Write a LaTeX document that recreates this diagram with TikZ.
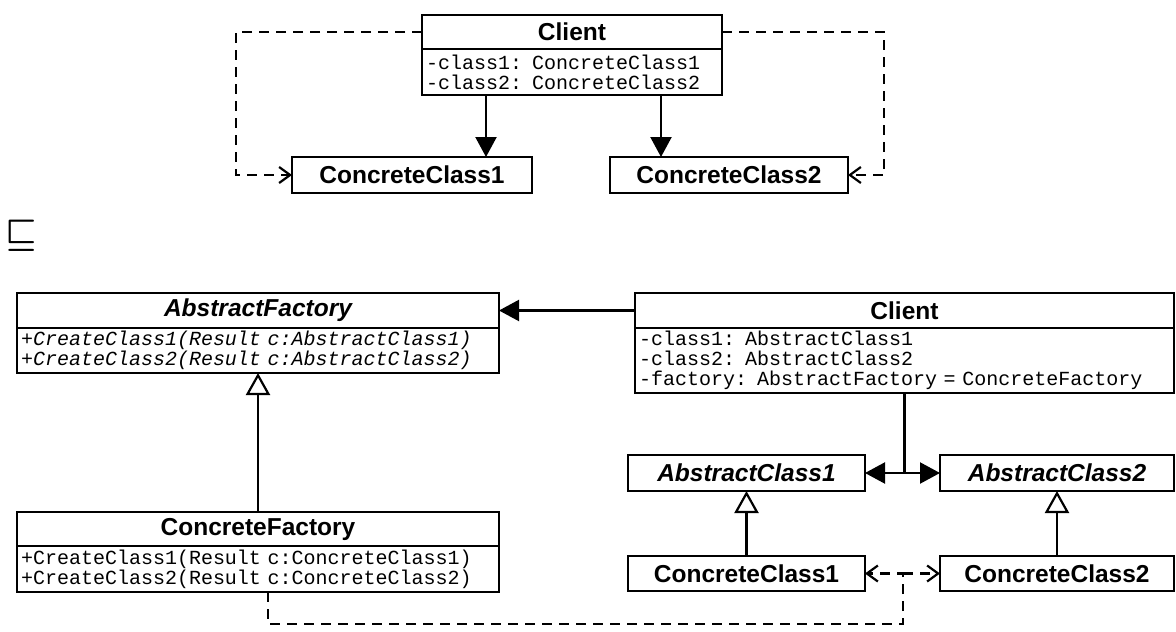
\documentclass[tikz,border=0pt]{standalone}
\usepackage{fix-cm}
\usepackage{fontspec}
\setmainfont{Liberation Sans}
\setmonofont{Liberation Mono}[WordSpace={1,0,0}]
\usepackage{tikz}
\usetikzlibrary{positioning, calc, arrows.meta}

\begin{document}
\begin{tikzpicture}[x=1pt, y=-1pt,
    box/.style={draw, line width=2.6pt, inner sep=0pt, outer sep=0pt, anchor=north west},
    head/.style={box, font=\fontsize{24.5}{28}\selectfont\bfseries},
    abshead/.style={box, font=\fontsize{24.5}{28}\selectfont\bfseries\itshape},
    body/.style={box, inner xsep=4pt, align=left, font=\fontsize{20}{20}\selectfont\ttfamily},
    absbody/.style={body, font=\fontsize{20}{20}\selectfont\ttfamily\itshape},
    assoc/.style={line width=2.2pt, -{Triangle[length=20pt,width=21pt]}},
    inherit/.style={line width=2.2pt, -{Triangle[open,length=22pt,width=24pt,line width=2.2pt]}},
    depend/.style={line width=2.2pt, dash pattern=on 10pt off 7pt, -{Straight Barb[length=11pt,width=16pt,line width=2.2pt]}}]
    \useasboundingbox (0,0) rectangle (1176,632);

    % Direct use of concrete classes
    \node[head, minimum width=300pt, minimum height=34pt] (client) at (422,15) {Client};
    \node[body, text width=292pt, minimum height=46pt] (clientattr) at (client.south west)
        {-class1: ConcreteClass1\\-class2: ConcreteClass2};
    \node[head, minimum width=240pt, minimum height=36pt] (cc1) at (292,157) {ConcreteClass1};
    \node[head, minimum width=238pt, minimum height=36pt] (cc2) at (610,157) {ConcreteClass2};

    \draw[assoc] (486,0 |- clientattr.south) -- (486,0 |- cc1.north);
    \draw[assoc] (661,0 |- clientattr.south) -- (661,0 |- cc2.north);
    \draw[depend] (client.west) -| ($(cc1.west)+(-56,0)$) -- (cc1.west);
    \draw[depend] (client.east) -| ($(cc2.east)+(36,0)$) -- (cc2.east);

    % Separator
    \node[font=\fontsize{35}{35}\selectfont\boldmath] (refines) at (21,236) {$\sqsubseteq$};

    % Abstract factory
    \node[abshead, minimum width=482pt, minimum height=35pt] (absfactory) at (17,293) {AbstractFactory};
    \node[absbody, text width=474pt, minimum height=45pt] (absfactoryops) at (absfactory.south west)
        {+CreateClass1(Result c:AbstractClass1)\\+CreateClass2(Result c:AbstractClass2)};
    \node[head, minimum width=482pt, minimum height=34pt] (confactory) at (17,512) {ConcreteFactory};
    \node[body, text width=474pt, minimum height=46pt] (confactoryops) at (confactory.south west)
        {+CreateClass1(Result c:ConcreteClass1)\\+CreateClass2(Result c:ConcreteClass2)};

    \node[head, minimum width=539pt, minimum height=35pt] (client2) at (635,293) {Client};
    \node[body, text width=531pt, minimum height=65pt] (client2attr) at (client2.south west)
        {-class1: AbstractClass1\\-class2: AbstractClass2\\-factory: AbstractFactory = ConcreteFactory};

    \node[abshead, minimum width=237pt, minimum height=36pt] (absclass1) at (628,455) {AbstractClass1};
    \node[abshead, minimum width=234pt, minimum height=36pt] (absclass2) at (940,455) {AbstractClass2};
    \node[head, minimum width=237pt, minimum height=35pt] (conclass1) at (628,556) {ConcreteClass1};
    \node[head, minimum width=234pt, minimum height=35pt] (conclass2) at (940,556) {ConcreteClass2};

    \draw[assoc] (client2.west) -- (absfactory.east);
    \draw[inherit] (confactory.north) -- (absfactoryops.south);

    \coordinate (branch) at (client2attr.south |- absclass1.east);
    \draw[line width=2.2pt] (client2attr.south) -- (branch);
    \draw[assoc] (branch) -- (absclass1.east);
    \draw[assoc] (branch) -- (absclass2.west);

    \draw[inherit] (conclass1.north) -- (absclass1.south);
    \draw[inherit] (conclass2.north) -- (absclass2.south);

    \coordinate (depjoin) at (903,0 |- conclass1.east);
    \draw[depend] ([xshift=10pt]confactoryops.south) -- ++(0,32) -| (depjoin) -- (conclass1.east);
    \draw[depend] (depjoin) -- (conclass2.west);
\end{tikzpicture}
\end{document}
